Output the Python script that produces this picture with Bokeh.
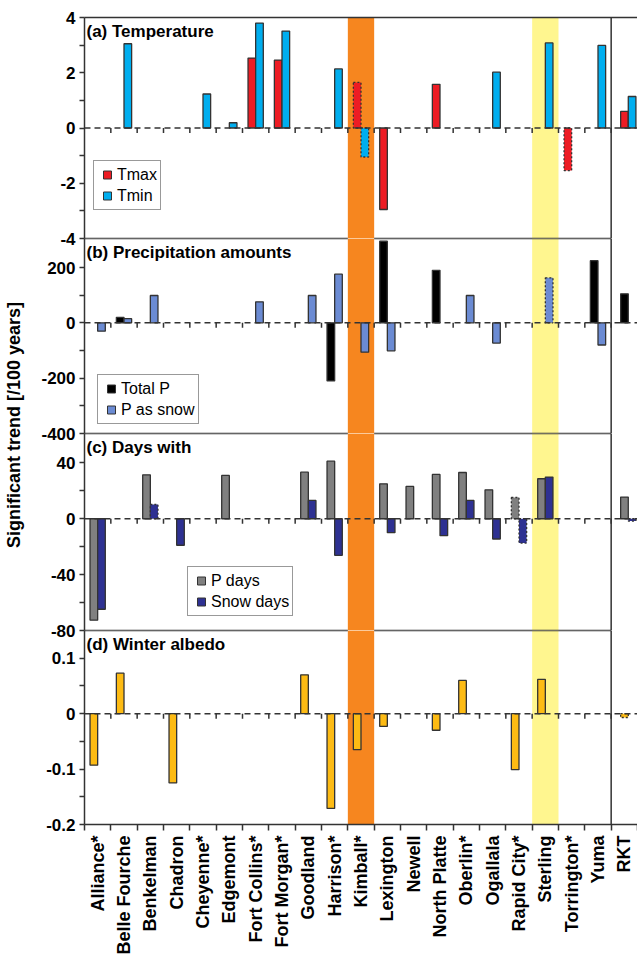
import math
from bokeh.plotting import figure
from bokeh.layouts import column, row
from bokeh.models import (Range1d, FixedTicker, LinearAxis, Span, BoxAnnotation,
                          Label, Legend, LegendItem, ColumnDataSource)
from bokeh.embed import file_html
from bokeh.resources import INLINE

# ---------------- data ----------------
stations = ["Alliance*", "Belle Fourche", "Benkelman", "Chadron", "Cheyenne*",
            "Edgemont", "Fort Collins*", "Fort Morgan*", "Goodland", "Harrison*",
            "Kimball*", "Lexington", "Newell", "North Platte", "Oberlin*",
            "Ogallala", "Rapid City*", "Sterling", "Torrington*", "Yuma", "RKT"]

# (a) Temperature
tmax = [None, None, None, None, None, None, 2.53, 2.46, None, None,
        1.65, -2.95, None, 1.58, None, None, None, None, -1.54, None, 0.60]
tmin = [None, 3.05, None, None, 1.23, 0.19, 3.80, 3.51, None, 2.14,
        -1.05, None, None, None, None, 2.02, None, 3.08, None, 2.99, 1.14]
tmax_dotted = ["Kimball*", "Torrington*"]
tmin_dotted = ["Kimball*"]

# (b) Precipitation amounts
total_p = [None, 20, None, None, None, None, None, None, None, -210,
           None, 295, None, 190, None, None, None, None, None, 225, 105]
p_snow = [-30, 15, 99, None, None, None, 76, None, 99, 176,
          -106, -101, None, None, 99, -73, None, 163, None, -80, None]
total_p_dotted = []
p_snow_dotted = ["Sterling"]

# (c) Days with
p_days = [-72.6, None, 31.4, None, None, 31.0, None, None, 33.3, 41.2,
          None, 25.0, 23.1, 31.7, 33.1, 20.7, 15.2, 28.6, None, None, 15.5]
snow_days = [-64.8, None, 10.2, -19.0, None, None, None, None, 13.1, -26.2,
             None, -10.0, None, -12.1, 13.1, -14.5, -17.4, 29.8, None, None, -1.7]
p_days_dotted = ["Rapid City*"]
snow_days_dotted = ["Benkelman", "Rapid City*", "RKT"]

# (d) Winter albedo
albedo = [-0.093, 0.073, None, -0.125, None, None, None, None, 0.070, -0.171,
          -0.065, -0.023, None, -0.030, 0.060, None, -0.101, 0.062, None, None, -0.007]
albedo_dotted = ["RKT"]

# axis ticks / labels
a_ticks = [-4, -2, 0, 2, 4]
a_minor = [-3, -1, 1, 3]
a_labels = ["-4", "-2", "0", "2", "4"]
b_ticks = [-400, -200, 0, 200]
b_minor = [-300, -100, 100]
b_labels = ["-400", "-200", "0", "200"]
c_ticks = [-80, -40, 0, 40]
c_minor = [-60, -20, 20]
c_labels = ["-80", "-40", "0", "40"]
d_ticks = [-0.2, -0.1, 0, 0.1]
d_minor = [-0.15, -0.05, 0.05]
d_labels = ["-0.2", "-0.1", "0", "0.1"]

highlight_orange = "Kimball*"
highlight_yellow = "Sterling"

# ---------------- style ----------------
FONT = "Liberation Sans"
EDGE = "#333333"
C_TMAX = "#ED1C24"
C_TMIN = "#00AEEF"
C_TOTP = "#000000"
C_PSNOW = "#6B8BD3"
C_PDAYS = "#808080"
C_SDAYS = "#2E3192"
C_ALB = "#FDBB14"
C_ORANGE = "#F6861F"
C_YELLOW = "#FFF68F"

n = len(stations)
label_pos = [i + 1 for i in range(n)]
centers = [i + 1 for i in range(n)]
centers[-1] += 0.15            # RKT inset drawn slightly shifted in original
boundaries = [i + 0.5 for i in range(n + 1)]
BAR_W = 0.29
OFF = 0.145
k_or = stations.index(highlight_orange)
k_ye = stations.index(highlight_yellow)

LEFT_W = 34
FRAME_W = 553


def split(values, dotted, offset):
    solid = dict(x=[], top=[])
    dot = dict(x=[], top=[])
    for i, v in enumerate(values):
        if v is None:
            continue
        tgt = dot if stations[i] in dotted else solid
        tgt["x"].append(centers[i] + offset)
        tgt["top"].append(v)
    return solid, dot


def add_bars(p, values, dotted, offset, color):
    solid, dot = split(values, dotted, offset)
    p.vbar(x="x", top="top", bottom=0, width=BAR_W, source=ColumnDataSource(solid),
           fill_color=color, line_color=EDGE, line_width=1.3)
    p.vbar(x="x", top="top", bottom=0, width=BAR_W, source=ColumnDataSource(dot),
           fill_color=color, line_color=EDGE, line_width=1.3, line_dash="2 2")


def make_panel(y0, y1, ticks, minor, labels, frame_h, top_b, bot_b, title,
               sep_top, sep_bottom, bottom_axis=False):
    p = figure(frame_width=FRAME_W, frame_height=frame_h,
               x_range=Range1d(boundaries[0], boundaries[-1]), y_range=Range1d(y0, y1),
               toolbar_location=None, output_backend="svg",
               x_axis_location="below" if bottom_axis else None,
               min_border_left=84 - LEFT_W, min_border_right=0,
               min_border_top=top_b, min_border_bottom=bot_b,
               outline_line_color=None, background_fill_color=None,
               border_fill_color=None)
    p.xgrid.grid_line_color = None
    p.ygrid.grid_line_color = None

    ax = p.yaxis[0]
    ax.ticker = FixedTicker(ticks=ticks, minor_ticks=minor)
    ax.major_label_overrides = {t: s for t, s in zip(ticks, labels)}
    ax.major_label_text_font = FONT
    ax.major_label_text_font_size = "17px"
    ax.major_label_text_font_style = "bold"
    ax.major_label_text_color = "black"
    ax.major_label_standoff = 4
    ax.major_tick_out = 5
    ax.major_tick_in = 0
    ax.minor_tick_out = 5
    ax.minor_tick_in = 0
    ax.axis_line_color = EDGE
    ax.axis_line_width = 1.5
    ax.major_tick_line_color = EDGE
    ax.major_tick_line_width = 1.5
    ax.minor_tick_line_color = EDGE
    ax.minor_tick_line_width = 1.5

    # highlighted stations
    p.add_layout(BoxAnnotation(left=boundaries[k_or], right=boundaries[k_or + 1],
                               fill_color=C_ORANGE, fill_alpha=1, line_color=None,
                               level="underlay"))
    p.add_layout(BoxAnnotation(left=boundaries[k_ye], right=boundaries[k_ye + 1],
                               fill_color=C_YELLOW, fill_alpha=1, line_color=None,
                               level="underlay"))

    # panel separators (skip the orange column)
    xs0 = [boundaries[0], boundaries[k_or + 1]]
    xs1 = [boundaries[k_or], boundaries[n - 1]]
    if sep_top:
        p.segment(x0=xs0, x1=xs1, y0=[y1, y1], y1=[y1, y1], line_color=EDGE, line_width=1.5)
    if sep_bottom:
        p.segment(x0=xs0, x1=xs1, y0=[y0, y0], y1=[y0, y0], line_color=EDGE, line_width=1.5)

    # RKT separator
    p.add_layout(Span(location=boundaries[n - 1], dimension="height",
                      line_color=EDGE, line_width=1.5))

    p.add_layout(Label(x=boundaries[0], y=y1, x_offset=2, y_offset=-4, text=title,
                       text_font=FONT, text_font_size="17px", text_font_style="bold",
                       text_baseline="top", text_align="left", text_color="black"))
    return p


def finish_panel(p):
    # dashed zero line with category ticks hanging below it
    p.add_layout(Span(location=0, dimension="width", line_color=EDGE,
                      line_width=1.5, line_dash="6 4"))
    inner = boundaries[1:-1]
    p.ray(x=inner, y=[0] * len(inner), length=5, length_units="screen",
          angle=-math.pi / 2, line_color=EDGE, line_width=1.5)


def add_legend(p, entries, loc):
    items = []
    for lab, col in entries:
        r = p.scatter(x=[float("nan")], y=[float("nan")], marker="square",
                      fill_color=col, line_color=EDGE, line_width=1)
        items.append(LegendItem(label=lab, renderers=[r]))
    lg = Legend(items=items, location=loc, orientation="vertical",
                padding=3, spacing=0, margin=0,
                glyph_width=20, glyph_height=21, label_height=21, label_standoff=0,
                border_line_color=EDGE, border_line_width=1.5,
                background_fill_color="white", background_fill_alpha=1,
                label_text_font=FONT, label_text_font_size="16px",
                label_text_color="black")
    p.add_layout(lg)


PAD = 10

# (a)
pa = make_panel(-4, 4, a_ticks, a_minor, a_labels, 221, 17, PAD,
                "(a) Temperature", False, True)
top_ax = LinearAxis(ticker=FixedTicker(ticks=[]), major_label_text_font_size="0px",
                    major_tick_out=0, major_tick_in=0, minor_tick_out=0, minor_tick_in=0,
                    axis_line_color=EDGE, axis_line_width=1.5)
pa.add_layout(top_ax, "above")
add_bars(pa, tmax, tmax_dotted, -OFF, C_TMAX)
add_bars(pa, tmin, tmin_dotted, OFF, C_TMIN)
finish_panel(pa)
add_legend(pa, [("Tmax", C_TMAX), ("Tmin", C_TMIN)], (9, 28))

# (b)
pb = make_panel(-400, 305, b_ticks, b_minor, b_labels, 195, PAD, PAD,
                "(b) Precipitation amounts", True, True)
pb.margin = (-2 * PAD, 0, 0, 0)
add_bars(pb, total_p, total_p_dotted, -OFF, C_TOTP)
add_bars(pb, p_snow, p_snow_dotted, OFF, C_PSNOW)
finish_panel(pb)
add_legend(pb, [("Total P", C_TOTP), ("P as snow", C_PSNOW)], (13, 9))

# (c)
pc = make_panel(-80, 61, c_ticks, c_minor, c_labels, 197, PAD, PAD,
                "(c) Days with", True, True)
pc.margin = (-2 * PAD, 0, 0, 0)
add_bars(pc, p_days, p_days_dotted, -OFF, C_PDAYS)
add_bars(pc, snow_days, snow_days_dotted, OFF, C_SDAYS)
finish_panel(pc)
add_legend(pc, [("P days", C_PDAYS), ("Snow days", C_SDAYS)], (103, 14))

# (d)
pd_ = make_panel(-0.2, 0.15, d_ticks, d_minor, d_labels, 194, PAD, 134,
                 "(d) Winter albedo", True, False, bottom_axis=True)
pd_.margin = (-2 * PAD, 0, 0, 0)
add_bars(pd_, albedo, albedo_dotted, -OFF, C_ALB)
finish_panel(pd_)
xa = pd_.xaxis[0]
xa.ticker = FixedTicker(ticks=label_pos, minor_ticks=boundaries)
xa.major_label_overrides = {t: s for t, s in zip(label_pos, stations)}
xa.major_label_orientation = math.pi / 2
xa.major_label_text_font = FONT
xa.major_label_text_font_size = "18px"
xa.major_label_text_font_style = "bold"
xa.major_label_text_color = "black"
xa.major_label_standoff = 5
xa.major_tick_out = 0
xa.major_tick_in = 0
xa.minor_tick_out = 6
xa.minor_tick_in = 0
xa.axis_line_color = EDGE
xa.axis_line_width = 1.5
xa.minor_tick_line_color = EDGE
xa.minor_tick_line_width = 1.5

# shared y-axis title
lab = figure(width=LEFT_W, height=958, x_range=Range1d(0, 1), y_range=Range1d(0, 1),
             toolbar_location=None, output_backend="svg", x_axis_location=None,
             min_border_left=9, min_border_right=0, min_border_top=17, min_border_bottom=126,
             outline_line_color=None, border_fill_color=None, background_fill_color=None)
lab.xgrid.grid_line_color = None
lab.ygrid.grid_line_color = None
ay = lab.yaxis[0]
ay.ticker = FixedTicker(ticks=[])
ay.major_label_text_font_size = "0px"
ay.major_tick_out = 0
ay.major_tick_in = 0
ay.minor_tick_out = 0
ay.minor_tick_in = 0
ay.axis_line_color = None
ay.axis_label = "Significant trend [/100 years]"
ay.axis_label_text_font = FONT
ay.axis_label_text_font_size = "18px"
ay.axis_label_text_font_style = "bold"
ay.axis_label_text_color = "black"
ay.axis_label_standoff = 0

layout = row(lab, column(pa, pb, pc, pd_))
open("out.html", "w").write(file_html(layout, INLINE))
